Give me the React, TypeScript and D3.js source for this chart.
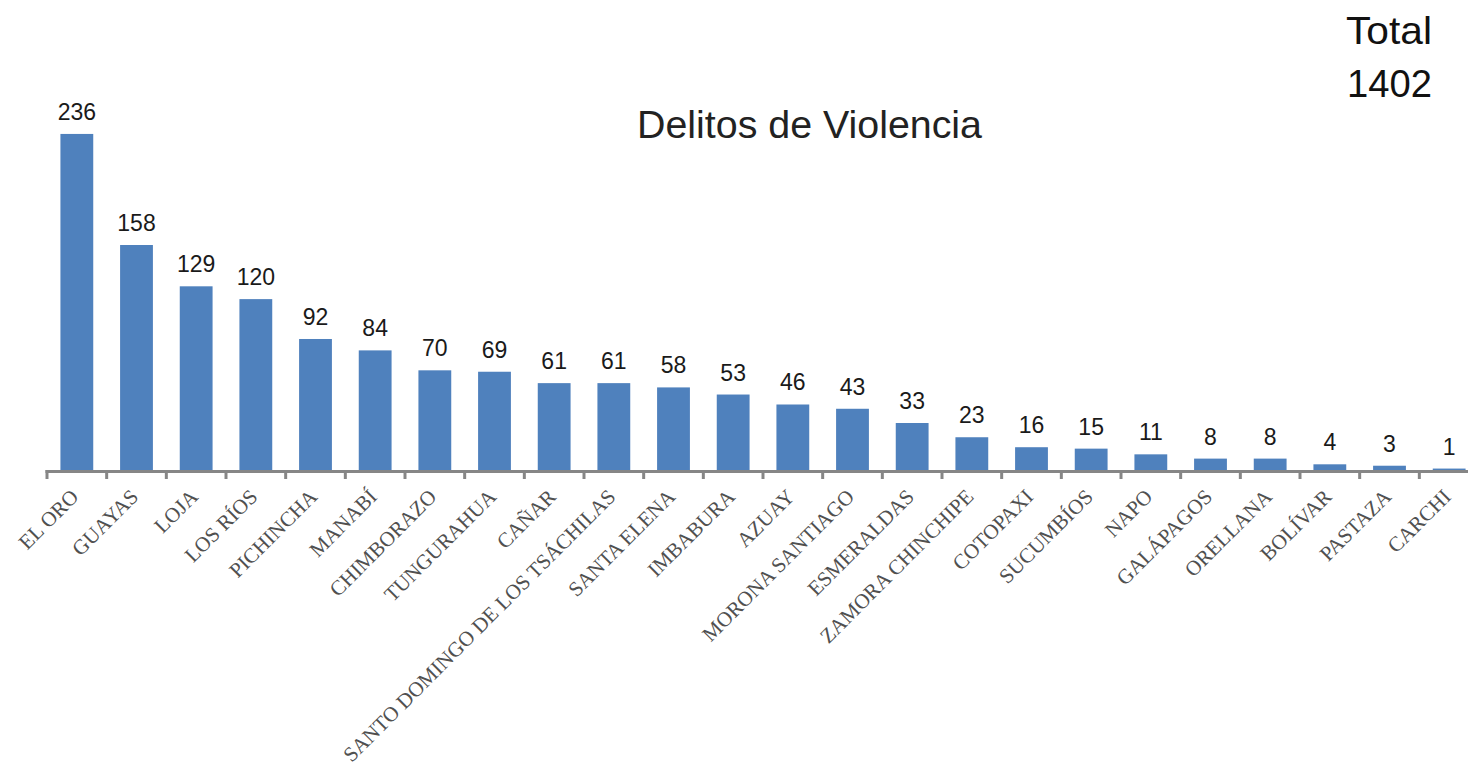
import React from "react";
import * as d3 from "d3";

const categories = [
  "EL ORO", "GUAYAS", "LOJA", "LOS RÍOS", "PICHINCHA", "MANABÍ", "CHIMBORAZO",
  "TUNGURAHUA", "CAÑAR", "SANTO DOMINGO DE LOS TSÁCHILAS", "SANTA ELENA",
  "IMBABURA", "AZUAY", "MORONA SANTIAGO", "ESMERALDAS", "ZAMORA CHINCHIPE",
  "COTOPAXI", "SUCUMBÍOS", "NAPO", "GALÁPAGOS", "ORELLANA", "BOLÍVAR",
  "PASTAZA", "CARCHI",
];
const values = [236, 158, 129, 120, 92, 84, 70, 69, 61, 61, 58, 53, 46, 43, 33, 23, 16, 15, 11, 8, 8, 4, 3, 1];
const title = "Delitos de Violencia";
const totalLabel = "Total";
const totalValue = "1402";

const W = 1468;
const H = 769;

export default function App() {
  const x0 = 47;
  const x = d3.scaleBand<string>().domain(categories).range([x0, 1479]).paddingInner(0.45).paddingOuter(0.225);
  const y = d3.scaleLinear().domain([0, 250]).range([470, 114]);
  const step = x.step();
  const ticks = d3.range(categories.length + 1).map((i) => x0 + i * step);

  return (
    <svg width={W} height={H} style={{ position: "absolute", left: 0, top: 0, background: "#fff" }}>
      <rect x={0} y={0} width={W} height={H} fill="#fff" />
      {categories.map((c, i) => (
        <rect key={c} x={x(c)} y={y(values[i])} width={x.bandwidth()} height={y(0) - y(values[i])} fill="#4F81BD" />
      ))}
      <line x1={x0 - 1.5} x2={1479} y1={y(0) + 1.5} y2={y(0) + 1.5} stroke="#868686" strokeWidth={3} />
      {ticks.map((t, i) => (
        <line key={i} x1={t} x2={t} y1={y(0)} y2={y(0) + 9} stroke="#868686" strokeWidth={3} />
      ))}
      {categories.map((c, i) => (
        <text key={"v" + c} x={(x(c) as number) + x.bandwidth() / 2} y={y(values[i]) - 14}
          textAnchor="middle" fontFamily="Liberation Sans, Arial, sans-serif" fontSize={23} fill="#1a1a1a">
          {values[i]}
        </text>
      ))}
      {categories.map((c) => {
        const cx = (x(c) as number) + x.bandwidth() / 2 + 3;
        return (
          <text key={"l" + c} transform={`translate(${cx},${498}) rotate(-45)`} textAnchor="end"
            fontFamily="Liberation Serif, Times New Roman, serif" fontSize={21} fill="#505050">
            {c}
          </text>
        );
      })}
      <text x={637} y={138} fontFamily="Liberation Sans, Arial, sans-serif" fontSize={39} fill="#222"
        textLength={345} lengthAdjust="spacingAndGlyphs">{title}</text>
      <text x={1346} y={44} fontFamily="Liberation Sans, Arial, sans-serif" fontSize={39} fill="#111"
        textLength={86} lengthAdjust="spacingAndGlyphs">{totalLabel}</text>
      <text x={1347} y={97} fontFamily="Liberation Sans, Arial, sans-serif" fontSize={39} fill="#111"
        textLength={85} lengthAdjust="spacingAndGlyphs">{totalValue}</text>
    </svg>
  );
}
